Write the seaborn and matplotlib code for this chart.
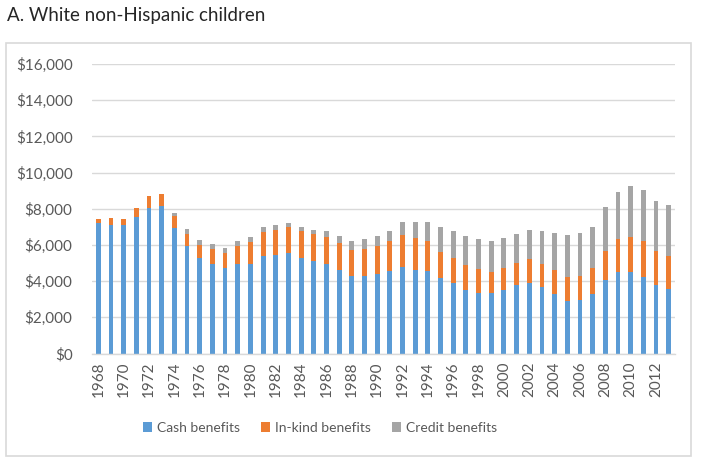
import matplotlib
matplotlib.use("Agg")
import matplotlib.pyplot as plt
import seaborn as sns
import pandas as pd
import numpy as np
from matplotlib.patches import Rectangle, Patch

years = list(range(1968, 2014))
cash = [7.19, 7.12, 7.08, 7.56, 8.02, 8.15, 6.92, 5.94, 5.26, 4.94, 4.74, 4.94, 4.96, 5.40, 5.45, 5.54,
        5.29, 5.09, 4.93, 4.61, 4.30, 4.30, 4.38, 4.54, 4.78, 4.63, 4.54, 4.17, 3.91, 3.50, 3.34, 3.32,
        3.50, 3.78, 3.92, 3.70, 3.30, 2.91, 2.93, 3.28, 4.06, 4.48, 4.53, 4.24, 3.80, 3.57]
inkind = [0.24, 0.35, 0.35, 0.46, 0.68, 0.66, 0.69, 0.68, 0.73, 0.83, 0.83, 1.02, 1.18, 1.33, 1.39, 1.44,
          1.49, 1.53, 1.52, 1.48, 1.43, 1.47, 1.54, 1.68, 1.77, 1.73, 1.66, 1.45, 1.38, 1.37, 1.34, 1.21,
          1.25, 1.21, 1.31, 1.27, 1.32, 1.31, 1.36, 1.45, 1.60, 1.84, 1.93, 2.00, 1.89, 1.84]
credit = [0.0, 0.0, 0.0, 0.0, 0.0, 0.0, 0.17, 0.24, 0.30, 0.28, 0.28, 0.27, 0.28, 0.28, 0.28, 0.25,
          0.23, 0.22, 0.30, 0.40, 0.50, 0.56, 0.57, 0.53, 0.72, 0.91, 1.07, 1.37, 1.49, 1.60, 1.64, 1.68,
          1.63, 1.62, 1.59, 1.79, 2.05, 2.32, 2.38, 2.27, 2.43, 2.60, 2.79, 2.82, 2.76, 2.79]
series_names = ["Cash benefits", "In-kind benefits", "Credit benefits"]
colors = ["#5B9BD5", "#ED7D31", "#A5A5A5"]
yticks = list(range(0, 16001, 2000))

df = pd.DataFrame({"year": [str(y) for y in years],
                   "cash": np.array(cash) * 1000,
                   "inkind": np.array(inkind) * 1000,
                   "credit": np.array(credit) * 1000})
df["lvl2"] = df["cash"] + df["inkind"]
df["lvl3"] = df["lvl2"] + df["credit"]

sns.set_theme(style="white")
plt.rcParams["font.family"] = ["Lato", "DejaVu Sans"]

W, H = 701, 463
fig = plt.figure(figsize=(W / 100, H / 100), dpi=100)
ax = fig.add_axes([92 / W, 1 - 353.5 / H, (675 - 92) / W, (353.5 - 64) / H])

order = df["year"].tolist()
for col, c in zip(["lvl3", "lvl2", "cash"], colors[::-1]):
    sns.barplot(data=df, x="year", y=col, color=c, order=order, width=0.38, ax=ax,
                saturation=1, edgecolor="none", linewidth=0)

ax.set_ylim(0, 16000)
ax.set_xlim(-0.5, len(years) - 0.5)
ax.set_yticks(yticks)
ax.set_yticklabels([f"${v:,}" for v in yticks], fontsize=11, color="#595959")
ax.yaxis.grid(True, color="#D9D9D9", linewidth=1)
ax.set_axisbelow(True)
ax.set_xticks(range(len(years)))
ax.set_xticklabels([str(y) if (y - 1968) % 2 == 0 else "" for y in years],
                   rotation=90, fontsize=11, color="#595959")
ax.tick_params(axis="both", length=0, pad=6)
ax.tick_params(axis="y", pad=14)
ax.set_xlabel("")
ax.set_ylabel("")
for s in ["top", "right", "left"]:
    ax.spines[s].set_visible(False)
ax.spines["bottom"].set_color("#D9D9D9")
ax.spines["bottom"].set_linewidth(1)

fig.patches.append(Rectangle((6 / W, 1 - 456 / H), (691 - 6) / W, (456 - 43) / H,
                             transform=fig.transFigure, fill=False, edgecolor="#D9D9D9",
                             linewidth=1.2, zorder=0))

fig.text(7 / W, 1 - 15 / H, "A. White non-Hispanic children", fontsize=13.5, color="#262626",
         va="center", ha="left")

handles = [Patch(facecolor=c, edgecolor="none") for c in colors]
fig.legend(handles, series_names, loc="center", bbox_to_anchor=(320 / W, 1 - 428 / H), ncol=3,
           frameon=False, fontsize=10, handlelength=0.65, handleheight=0.65, columnspacing=1.5,
           handletextpad=0.35, labelcolor="#595959")

fig.savefig("out.png", dpi=100)
